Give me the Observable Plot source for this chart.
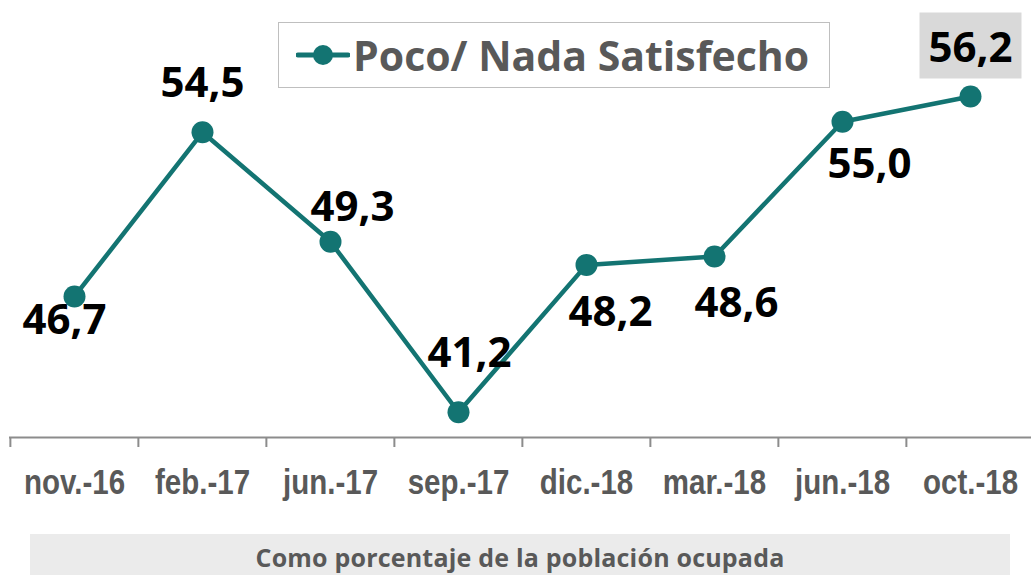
<!DOCTYPE html>
<html>
<head>
<meta charset="utf-8">
<script src="https://cdn.jsdelivr.net/npm/d3@7"></script>
<script src="https://cdn.jsdelivr.net/npm/@observablehq/plot@0.6"></script>
<style>
  body { margin: 0; background: #fff; }
  #wrap { position: relative; width: 1031px; height: 575px; overflow: hidden; }
  #legend {
    position: absolute; left: 278px; top: 22px; width: 552px; height: 66px;
    border: 1.5px solid #bfbfbf; box-sizing: border-box; background: #fff;
    display: flex; align-items: center;
    font-family: "Open Sans", sans-serif; font-weight: 700; font-size: 41px; color: #595959;
  }
  #legend svg { margin-left: 17px; margin-right: 3px; }
  #caption {
    position: absolute; left: 30px; top: 534px; width: 980px; height: 41px;
    background: #ebebeb; text-align: center; line-height: 46px;
    font-family: "Open Sans", sans-serif; font-weight: 700; font-size: 25px; color: #595959;
    letter-spacing: 0.2px;
  }
</style>
</head>
<body>
<div id="wrap"></div>
<script>
const categories = ["nov.-16", "feb.-17", "jun.-17", "sep.-17", "dic.-18", "mar.-18", "jun.-18", "oct.-18"];
const values = [46.7, 54.5, 49.3, 41.2, 48.2, 48.6, 55.0, 56.2];
const seriesName = "Poco/ Nada Satisfecho";
const captionText = "Como porcentaje de la población ocupada";

// label offsets (style only)
const labelOffsets = [[-10, 24], [0, -49], [22, -34], [11, -59], [24, 48], [22, 47], [27, 43], [0, -48]];

const color = "#137472";
const data = categories.map((c, i) => ({cat: c, v: values[i]}));
const fmt = v => v.toFixed(1).replace(".", ",");

const xRange = [9, 1035];
const step = (xRange[1] - xRange[0]) / categories.length;

const boxSymbol = { draw(ctx) { ctx.rect(-51, -33, 102, 66); } };

const marks = [
  Plot.ruleY([40], {stroke: "#8c8c8c", strokeWidth: 2}),
  Plot.ruleX(categories, {x: d => d, y1: 40, y2: 40, dx: -step / 2, insetBottom: -10, stroke: "#8c8c8c", strokeWidth: 2}),
  Plot.text(categories, {x: d => d, y: 40, text: d => d, dy: 45, fontSize: 36, fontWeight: "bold",
    fontFamily: "'Liberation Sans', Arial, sans-serif", fill: "#595959", lineAnchor: "middle", className: "xlabels"}),
  Plot.line(data, {x: "cat", y: "v", stroke: color, strokeWidth: 4.5}),
  Plot.dot(data, {x: "cat", y: "v", r: 11, fill: color, stroke: "none"}),
  Plot.dot([data[data.length - 1]], {x: "cat", y: "v", symbol: boxSymbol, r: 1, fill: "#d9d9d9", stroke: "none", dy: -51})
];
data.forEach((d, i) => {
  marks.push(Plot.text([d], {x: "cat", y: "v", text: dd => fmt(dd.v), dx: labelOffsets[i][0], dy: labelOffsets[i][1],
    fontSize: 42, fontWeight: "bold", fontFamily: "'Open Sans', sans-serif", fill: "#000", lineAnchor: "middle"}));
});

const chart = Plot.plot({
  width: 1031,
  height: 520,
  marginLeft: 9, marginRight: 0, marginTop: 0, marginBottom: 83,
  style: {background: "transparent", overflow: "visible"},
  x: {type: "point", domain: categories, range: xRange, padding: 0.5, axis: null},
  y: {domain: [40, 60], range: [437, 16], axis: null},
  marks
});

const wrap = document.getElementById("wrap");
wrap.appendChild(chart);

// condense the axis labels (narrow bold face)
d3.select(chart).selectAll("g.xlabels text").each(function() {
  const t = this.getAttribute("transform") || "";
  this.setAttribute("transform", (t + " scale(0.82,1)").trim());
});

const legend = document.createElement("div");
legend.id = "legend";
legend.innerHTML = `<svg width="54" height="24"><line x1="2" y1="12" x2="52" y2="12" stroke="${color}" stroke-width="5" stroke-linecap="round"/><circle cx="27" cy="12" r="10" fill="${color}"/></svg><span>${seriesName}</span>`;
wrap.appendChild(legend);

const cap = document.createElement("div");
cap.id = "caption";
cap.textContent = captionText;
wrap.appendChild(cap);
</script>
</body>
</html>
